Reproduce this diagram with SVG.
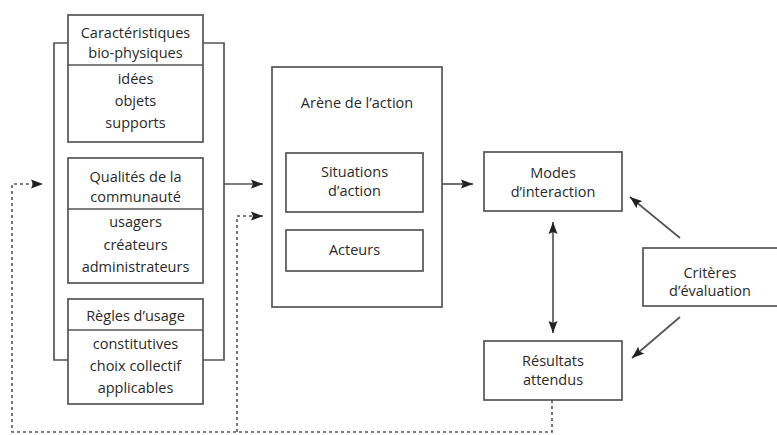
<svg xmlns="http://www.w3.org/2000/svg" width="777" height="435" viewBox="0 0 777 435">
<style>
.b{fill:#fff;stroke:#555;stroke-width:1.7}
.l{fill:none;stroke:#555;stroke-width:1.7}
.d{fill:none;stroke:#555;stroke-width:1.6;stroke-dasharray:3,3}
text{font-family:"Open Sans","DejaVu Sans",sans-serif;font-size:14.5px;fill:#2a2a2a;text-anchor:middle}
</style>
<defs>
<marker id="a" viewBox="0 0 12 10" refX="12" refY="5" markerWidth="12" markerHeight="10" markerUnits="userSpaceOnUse" orient="auto-start-reverse">
<path d="M0,0.5 L12,5 L0,9.5 L2,5 Z" fill="#222"/>
</marker>
</defs>
<rect width="777" height="435" fill="#fff"/>
<g id="connectors">
<path class="l" d="M68,43 H54 V360 H68 M203,43 H224 V360 H203"/>
<path class="l" d="M224,184 H263" marker-end="url(#a)"/>
<path class="d" d="M552,400 V432 H12 V184 H43" marker-end="url(#a)"/>
<path class="d" d="M237,432 V216 H263" marker-end="url(#a)"/>
<path class="l" d="M442,184 H473" marker-end="url(#a)"/>
<path class="l" d="M553,222 V333" marker-start="url(#a)" marker-end="url(#a)"/>
<path class="l" d="M680,238 L630,197" marker-end="url(#a)"/>
<path class="l" d="M680,317 L632,358" marker-end="url(#a)"/>
</g>
<g id="carac">
<rect class="b" x="68" y="15" width="135" height="127"/>
<line class="l" x1="68" y1="65" x2="203" y2="65"/>
<text x="135.5" y="38">Caractéristiques</text>
<text x="135.5" y="58">bio-physiques</text>
<text x="135.5" y="84">idées</text>
<text x="135.5" y="106">objets</text>
<text x="135.5" y="128">supports</text>
</g>
<g id="qualites">
<rect class="b" x="68" y="158" width="135" height="125"/>
<line class="l" x1="68" y1="209" x2="203" y2="209"/>
<text x="135.5" y="182">Qualités de la</text>
<text x="135.5" y="202">communauté</text>
<text x="135.5" y="227">usagers</text>
<text x="135.5" y="250">créateurs</text>
<text x="135.5" y="272">administrateurs</text>
</g>
<g id="regles">
<rect class="b" x="68" y="299" width="135" height="105"/>
<line class="l" x1="68" y1="330" x2="203" y2="330"/>
<text x="135.5" y="321">Règles d’usage</text>
<text x="135.5" y="349">constitutives</text>
<text x="135.5" y="371">choix collectif</text>
<text x="135.5" y="393">applicables</text>
</g>
<g id="arene">
<rect class="b" x="272" y="67" width="170" height="240"/>
<text x="357" y="108">Arène de l’action</text>
</g>
<g id="situations">
<rect class="b" x="286" y="153" width="137" height="59"/>
<text x="354.5" y="177">Situations</text>
<text x="354.5" y="196">d’action</text>
</g>
<g id="acteurs">
<rect class="b" x="286" y="230" width="137" height="41"/>
<text x="354.5" y="255">Acteurs</text>
</g>
<g id="modes">
<rect class="b" x="484" y="152" width="138" height="59"/>
<text x="553" y="178">Modes</text>
<text x="553" y="197">d’interaction</text>
</g>
<g id="resultats">
<rect class="b" x="484" y="341" width="138" height="59"/>
<text x="553" y="366">Résultats</text>
<text x="553" y="385">attendus</text>
</g>
<g id="criteres">
<rect class="b" x="643" y="248" width="136" height="58"/>
<text x="710" y="278">Critères</text>
<text x="710" y="296">d’évaluation</text>
</g>
</svg>
